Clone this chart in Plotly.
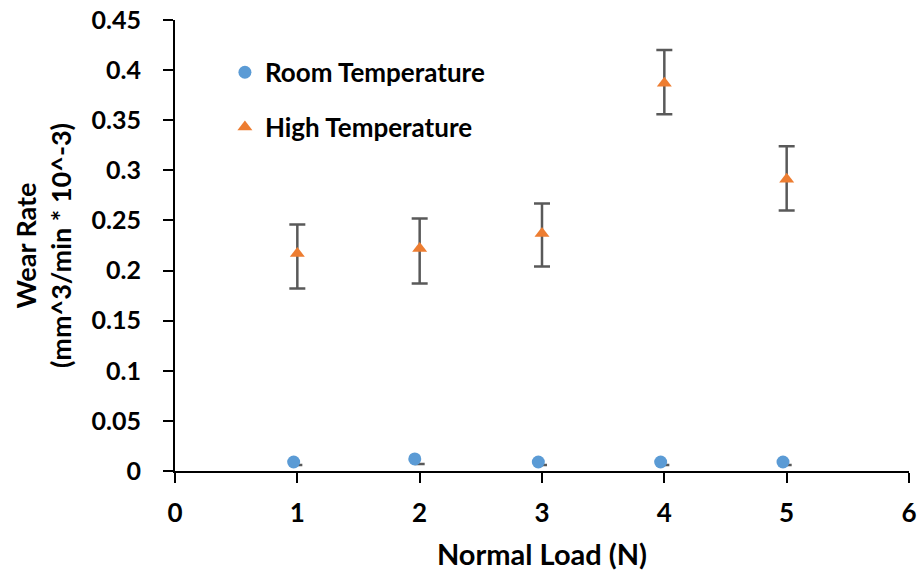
import plotly.graph_objects as go

# Data
loads = [1, 2, 3, 4, 5]
room_x = [0.97, 1.96, 2.97, 3.97, 4.97]
room_rate = [0.009, 0.012, 0.009, 0.009, 0.009]
room_err_y = [0.006, 0.007, 0.006, 0.006, 0.006]
high_rate = [0.217, 0.222, 0.237, 0.387, 0.291]
high_err_plus = [0.029, 0.030, 0.030, 0.033, 0.033]
high_err_minus = [0.035, 0.035, 0.033, 0.031, 0.031]

FONT = "Lato"
BLUE = "#5B9BD5"
ORANGE = "#ED7D31"
GRAY = "#595959"

fig = go.Figure()

# Room-temperature error bars (very small)
fig.add_trace(go.Scatter(
    x=loads, y=room_err_y, mode="markers",
    marker=dict(size=1, color="rgba(0,0,0,0)"),
    error_y=dict(type="data", array=[0]*5, visible=True, color=GRAY, thickness=2.5, width=5),
    showlegend=False, hoverinfo="skip"))

fig.add_trace(go.Scatter(
    x=room_x, y=room_rate, mode="markers", name="Room Temperature",
    marker=dict(symbol="circle", size=13, color=BLUE),
    legendgroup="a"))

fig.add_trace(go.Scatter(
    x=loads, y=high_rate, mode="markers", name="High Temperature",
    marker=dict(symbol="triangle-up", size=13, color=ORANGE),
    error_y=dict(type="data", array=high_err_plus, arrayminus=high_err_minus,
                 visible=True, color=GRAY, thickness=2.5, width=8),
    legendgroup="b"))

fig.update_layout(
    width=919, height=571,
    margin=dict(l=175, r=10, t=20, b=100),
    plot_bgcolor="white", paper_bgcolor="white",
    font=dict(family=FONT, color="black", size=26),
    showlegend=True,
    legend=dict(x=0.068, y=0.936, xanchor="left", yanchor="top",
                bgcolor="rgba(0,0,0,0)", tracegroupgap=18,
                font=dict(family=FONT, size=26, weight="bold"),
                itemsizing="trace"),
    xaxis=dict(range=[0, 6], tickmode="array", tickvals=[0, 1, 2, 3, 4, 5, 6],
               showline=True, linecolor="black", linewidth=2,
               ticks="outside", ticklen=10, tickwidth=2, tickcolor="black",
               showgrid=False, zeroline=False, ticklabelstandoff=8,
               automargin=False,
               tickfont=dict(family=FONT, size=26, weight="bold"),
               title=dict(text="Normal Load (N)", standoff=22,
                          font=dict(family=FONT, size=29, weight="bold"))),
    yaxis=dict(range=[0, 0.45], tickmode="array",
               tickvals=[0, 0.05, 0.1, 0.15, 0.2, 0.25, 0.3, 0.35, 0.4, 0.45],
               ticktext=["0", "0.05", "0.1", "0.15", "0.2", "0.25", "0.3", "0.35", "0.4", "0.45"],
               showline=True, linecolor="black", linewidth=2,
               ticks="outside", ticklen=10, tickwidth=2, tickcolor="black",
               showgrid=False, zeroline=False, ticklabelstandoff=17,
               automargin=False,
               tickfont=dict(family=FONT, size=25, weight="bold"),
               title=dict(text="Wear Rate<br>(mm^3/min * 10^-3)", standoff=12,
                          font=dict(family=FONT, size=27, weight="bold"))),
)

fig.write_html("out.html")
